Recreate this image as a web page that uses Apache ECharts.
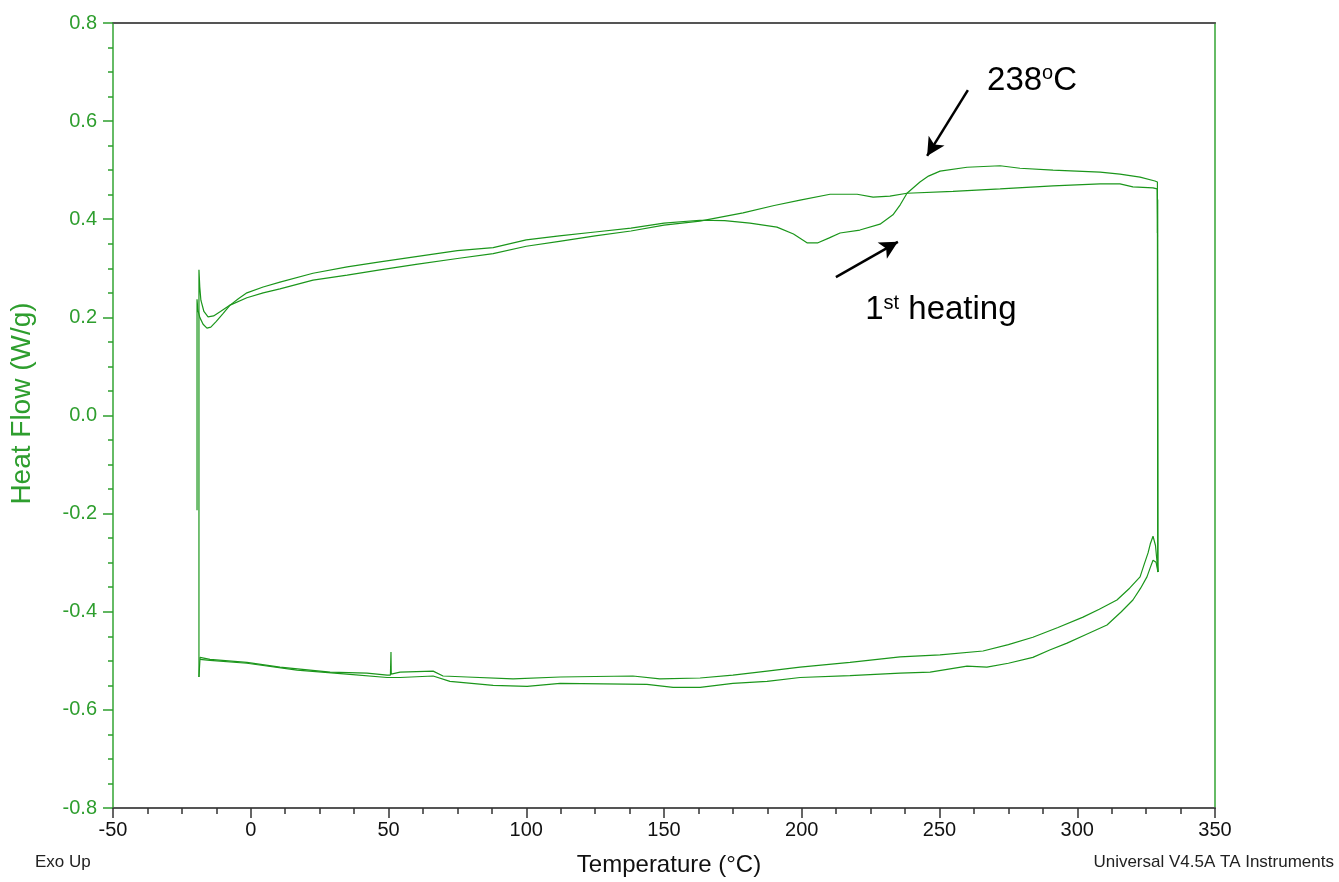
<!DOCTYPE html>
<html>
<head>
<meta charset="utf-8">
<script src="https://cdn.jsdelivr.net/npm/echarts@6/dist/echarts.min.js"></script>
<style>
  html, body { margin: 0; padding: 0; background: #fff; }
  #chart { width: 1339px; height: 882px; }
</style>
</head>
<body>
<div id="chart"></div>
<script>
// DSC heat/cool cycles: [temperature °C, heat flow W/g]
const heating1 = [
  [-19.5,-0.193],[-19.5,0.237],[-19.2,0.215],[-18.5,0.200],[-17.3,0.186],[-15.9,0.178],[-14.5,0.180],
  [-12.5,0.192],[-10.0,0.208],[-7.5,0.225],[-4.5,0.238],[-1.4,0.250],[4.5,0.262],[10.6,0.272],
  [22.6,0.290],[35.0,0.303],[46.9,0.313],[60,0.324],[75,0.336],[88,0.342],[100,0.358],[112,0.366],
  [125,0.374],[138,0.382],[150,0.392],[163,0.398],[172,0.397],[181.2,0.392],[191.0,0.384],[197,0.370],
  [201.9,0.352],[205.9,0.352],[210,0.362],[213.9,0.372],[221.1,0.378],[228.4,0.390],[233.1,0.409],
  [235.8,0.430],[238.2,0.453],[242.9,0.476],[246,0.488],[250.2,0.498],[260.0,0.506],[272.0,0.509],
  [279.2,0.504],[291.2,0.500],[308.3,0.496],[315.5,0.492],[322.8,0.486],[328.2,0.478],[329.1,0.476],
  [329.1,0.372],[329.2,0.440],[329.3,-0.319]
];
const cooling1 = [
  [329.3,-0.319],[328.4,-0.265],[327.5,-0.246],[326.5,-0.262],[325.7,-0.280],[324.2,-0.305],[322.8,-0.329],
  [319,-0.352],[314.4,-0.376],[308,-0.395],[302.1,-0.411],[293,-0.432],[283.9,-0.452],[275,-0.467],
  [265.8,-0.480],[250.2,-0.488],[235.7,-0.492],[217.5,-0.503],[199.4,-0.513],[187.4,-0.521],
  [175.0,-0.529],[163.1,-0.535],[148.5,-0.537],[138.7,-0.531],[125,-0.532],[112.3,-0.533],
  [95.2,-0.537],[78.5,-0.533],[69.8,-0.531],[66.2,-0.521],[54.2,-0.523],[51.0,-0.527],[50.9,-0.482],
  [50.7,-0.529],[49.5,-0.529],[42.2,-0.525],[28.8,-0.523],[10.6,-0.513],[-1.4,-0.503],[-14.8,-0.497],
  [-18.4,-0.493],[-18.8,-0.495],[-18.8,-0.533]
];
const heating2 = [
  [-18.8,-0.533],[-18.8,0.297],[-18.5,0.262],[-18.1,0.235],[-17.0,0.212],[-15.5,0.201],[-13.5,0.203],
  [-11,0.212],[-7.5,0.225],[-1.4,0.240],[4.5,0.250],[10.6,0.258],[22.6,0.276],[35.0,0.286],[46.9,0.297],
  [60,0.308],[75,0.320],[88,0.330],[100,0.345],[112,0.355],[125,0.366],[138,0.376],[150,0.388],
  [163,0.396],[178.7,0.413],[190,0.428],[199.4,0.439],[210.3,0.451],[220.1,0.451],[225.9,0.445],
  [232.0,0.447],[238.2,0.453],[254.9,0.457],[272.0,0.462],[291.2,0.468],[308.3,0.472],[315.5,0.472],
  [320.2,0.466],[327.5,0.464],[329.0,0.462],[329.1,0.400],[329.2,-0.300],[329.3,-0.319]
];
const cooling2 = [
  [329.3,-0.319],[328.6,-0.299],[327.5,-0.295],[326.5,-0.310],[325.3,-0.329],[323,-0.352],[320.2,-0.376],
  [316,-0.400],[310.8,-0.427],[303,-0.447],[296.3,-0.464],[290,-0.478],[283.9,-0.493],[275,-0.505],
  [267.2,-0.513],[260.0,-0.511],[246.6,-0.523],[235.7,-0.525],[217.5,-0.530],[199.4,-0.534],
  [187.4,-0.542],[175.0,-0.546],[163.1,-0.554],[153.3,-0.554],[143.8,-0.548],[128,-0.547],
  [112.3,-0.546],[100.3,-0.552],[88.0,-0.550],[72.3,-0.542],[66.2,-0.531],[54.2,-0.534],[49.5,-0.534],
  [34.9,-0.527],[16.8,-0.519],[-1.4,-0.505],[-14.8,-0.499],[-18.4,-0.497]
];

// Annotation arrows (tail -> head) and label anchors, in data units
const arrowTg = [[260.3, 0.663], [245.5, 0.529]];
const arrowHeating = [[212.4, 0.282], [234.9, 0.354]];
const labelTg = [283.6, 0.682];
const labelHeating = [250.5, 0.215];

const xTicks = { min: -50, max: 350, step: 50 };
const yTicks = { min: -0.8, max: 0.8, step: 0.2 };

const GREEN = '#1b961b';
const AXIS_GREEN = '#66bb66';
const LABEL_GREEN = '#2e9e2e';
const FONT = 'Liberation Sans, Arial, sans-serif';

const chart = echarts.init(document.getElementById('chart'), null, { renderer: 'canvas' });

function curve(name, data) {
  return {
    name, type: 'line', data, showSymbol: false, symbol: 'none',
    lineStyle: { color: GREEN, width: 1.2 }, silent: true, z: 3
  };
}

chart.setOption({
  animation: false,
  backgroundColor: '#ffffff',
  grid: { left: 113, right: 124, top: 23, bottom: 74, containLabel: false },
  xAxis: [{
    type: 'value', position: 'bottom',
    min: xTicks.min, max: xTicks.max, interval: xTicks.step,
    name: 'Temperature (°C)', nameLocation: 'middle', nameGap: 45,
    nameTextStyle: { color: '#111', fontSize: 24, fontFamily: FONT, padding: [0, 0, 0, 10] },
    axisLine: { show: true, onZero: false, lineStyle: { color: '#555', width: 2 } },
    axisTick: { show: true, length: 10, lineStyle: { color: '#333', width: 1.5 } },
    minorTick: { show: true, splitNumber: 4, length: 6, lineStyle: { color: '#333', width: 1.5 } },
    axisLabel: { color: '#111', fontSize: 20, fontFamily: FONT, margin: 12 },
    splitLine: { show: false }
  }, {
    type: 'value', position: 'top',
    min: xTicks.min, max: xTicks.max,
    axisLine: { show: true, onZero: false, lineStyle: { color: '#555', width: 2 } },
    axisTick: { show: false }, axisLabel: { show: false }, splitLine: { show: false }
  }],
  yAxis: [{
    type: 'value', position: 'left',
    min: yTicks.min, max: yTicks.max, interval: yTicks.step,
    name: 'Heat Flow (W/g)', nameLocation: 'middle', nameGap: 77, nameRotate: 90,
    nameTextStyle: { color: LABEL_GREEN, fontSize: 28, fontFamily: FONT, padding: [0, 0, 0, 24] },
    axisLine: { show: true, onZero: false, lineStyle: { color: AXIS_GREEN, width: 2 } },
    axisTick: { show: true, length: 10, lineStyle: { color: LABEL_GREEN, width: 1.5 } },
    minorTick: { show: true, splitNumber: 4, length: 5, lineStyle: { color: LABEL_GREEN, width: 1.5 } },
    axisLabel: {
      color: LABEL_GREEN, fontSize: 20, fontFamily: FONT, margin: 16,
      formatter: v => (Math.abs(v) < 1e-9 ? 0 : v).toFixed(1)
    },
    splitLine: { show: false }
  }, {
    type: 'value', position: 'right',
    min: yTicks.min, max: yTicks.max,
    axisLine: { show: true, onZero: false, lineStyle: { color: AXIS_GREEN, width: 2 } },
    axisTick: { show: false }, axisLabel: { show: false }, splitLine: { show: false }
  }],
  series: [
    curve('1st heating', heating1),
    curve('1st cooling', cooling1),
    curve('2nd heating', heating2),
    curve('2nd cooling', cooling2),
    {
      name: 'arrows', type: 'line', data: [], silent: true, z: 5,
      markLine: {
        silent: true, animation: false,
        symbol: ['none', 'arrow'], symbolSize: [14, 18],
        label: { show: false },
        lineStyle: { color: '#000', width: 2.5, type: 'solid' },
        data: [
          [{ coord: arrowTg[0] }, { coord: arrowTg[1] }],
          [{ coord: arrowHeating[0] }, { coord: arrowHeating[1] }]
        ]
      }
    },
    {
      name: 'labels', type: 'scatter', symbolSize: 0, silent: true, z: 6,
      itemStyle: { opacity: 1 },
      data: [
        { value: labelTg, label: { formatter: '{n|238}{s|o}{n|C}' } },
        { value: labelHeating, label: { formatter: '{n|1}{s|st}{n| heating}' } }
      ],
      label: {
        show: true, position: 'inside', color: '#000', fontFamily: FONT,
        rich: {
          n: { fontSize: 33, color: '#000', fontFamily: FONT, lineHeight: 34 },
          s: { fontSize: 20, color: '#000', fontFamily: FONT, verticalAlign: 'top', lineHeight: 34 }
        }
      }
    }
  ],
  graphic: [
    { type: 'text', left: 35, top: 854, style: { text: 'Exo Up', fill: '#222', font: '17px ' + FONT } },
    { type: 'text', right: 5, top: 854, style: { text: 'Universal V4.5A TA Instruments', fill: '#222', font: '17px ' + FONT } }
  ]
});
</script>
</body>
</html>
